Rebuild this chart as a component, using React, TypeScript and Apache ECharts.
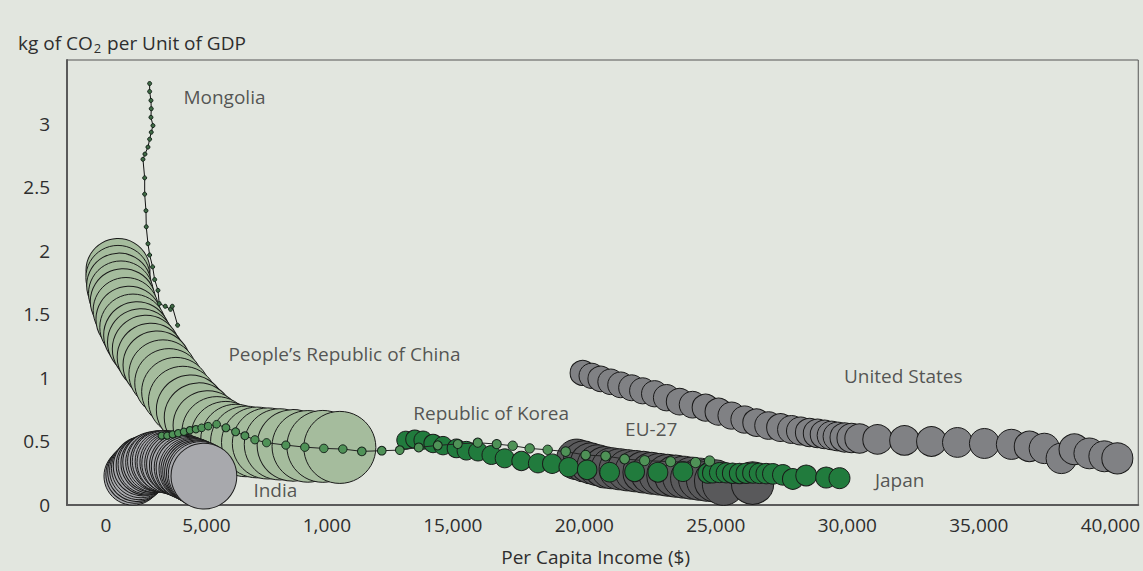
import React, { useEffect, useRef } from 'react';
import * as echarts from 'echarts';

// ---------- axis ticks ----------
const xTickValues = [1816, 5638, 10212, 15000, 20000, 25000, 30000, 35000, 40000];
const xTickLabels = ['0', '5,000', '1,000', '15,000', '20,000', '25,000', '30,000', '35,000', '40,000'];
const yTickValues = [0, 0.5, 1, 1.5, 2, 2.5, 3];
const yTickLabels = ['0', '0.5', '1', '1.5', '2', '2.5', '3'];

// ---------- Mongolia ----------
const mongoliaIncome = [3476, 3476, 3526, 3537, 3526, 3602, 3537, 3476, 3412, 3298, 3222, 3287, 3287, 3336, 3347, 3412, 3476, 3590, 3666, 3792, 3841, 4069, 4270, 4335, 4540];
const mongoliaIntensity = [3.315, 3.252, 3.182, 3.117, 3.049, 2.984, 2.932, 2.877, 2.815, 2.76, 2.719, 2.573, 2.445, 2.315, 2.188, 2.055, 1.966, 1.873, 1.773, 1.688, 1.584, 1.563, 1.539, 1.563, 1.414];

// ---------- People's Republic of China ----------
const chinaIncome = [2272, 2272, 2310, 2386, 2462, 2576, 2690, 2842, 2994, 3146, 3336, 3526, 3754, 3982, 4210, 4476, 4741, 5045, 5349, 5691, 6033, 6375, 6755, 7135, 7553, 7971, 8427, 8921, 9490, 10060, 10706];
const chinaIntensity = [1.844, 1.789, 1.727, 1.664, 1.602, 1.531, 1.461, 1.398, 1.336, 1.281, 1.227, 1.164, 1.102, 1.031, 0.961, 0.891, 0.82, 0.75, 0.688, 0.625, 0.578, 0.539, 0.516, 0.5, 0.492, 0.484, 0.477, 0.469, 0.461, 0.461, 0.453];
const chinaSize = [975, 982, 994, 1004, 1017, 1026, 1037, 1048, 1056, 1066, 1078, 1087, 1096, 1104, 1114, 1120, 1131, 1138, 1144, 1155, 1160, 1170, 1176, 1187, 1192, 1203, 1207, 1217, 1221, 1230, 1235];

// ---------- India ----------
const indiaIncome = [2842, 2918, 2994, 3070, 3146, 3222, 3336, 3412, 3526, 3602, 3716, 3792, 3906, 3982, 4096, 4172, 4286, 4362, 4476, 4552, 4666, 4742, 4856, 4932, 5046, 5122, 5197, 5273, 5349, 5425, 5539];
const indiaIntensity = [0.227, 0.242, 0.258, 0.273, 0.289, 0.305, 0.313, 0.32, 0.328, 0.336, 0.336, 0.344, 0.344, 0.344, 0.344, 0.336, 0.336, 0.328, 0.328, 0.32, 0.313, 0.305, 0.297, 0.289, 0.281, 0.273, 0.266, 0.258, 0.25, 0.242, 0.227];
const indiaSize = [800, 806, 815, 822, 829, 838, 845, 851, 860, 867, 873, 880, 889, 895, 902, 910, 916, 923, 930, 937, 944, 950, 958, 964, 972, 979, 986, 994, 1001, 1012, 1030];

// ---------- Republic of Korea ----------
const koreaIncome = [3932, 4145, 4350, 4563, 4779, 5007, 5235, 5452, 5702, 6022, 6375, 6743, 7097, 7477, 7921, 8654, 9376, 10098, 10820, 11542, 12301, 12985, 13707, 14429, 15189, 15949, 16670, 17278, 17924, 18608, 19292, 20051, 20811, 21533, 22293, 23281, 24231, 24763];
const koreaIntensity = [0.545, 0.545, 0.555, 0.565, 0.576, 0.588, 0.596, 0.607, 0.62, 0.635, 0.607, 0.576, 0.545, 0.513, 0.49, 0.471, 0.455, 0.445, 0.44, 0.422, 0.427, 0.432, 0.453, 0.469, 0.48, 0.49, 0.479, 0.466, 0.445, 0.434, 0.42, 0.393, 0.385, 0.362, 0.349, 0.341, 0.334, 0.346];
const koreaSize = [12, 12, 12, 13, 13, 13, 13, 14, 14, 14, 15, 15, 15, 16, 16, 16, 17, 17, 17, 18, 18, 18, 19, 19, 19, 20, 20, 21, 21, 21, 22, 22, 23, 23, 24, 24, 25, 25];

// ---------- Japan ----------
const japanIncome = [13213, 13555, 13870, 14250, 14630, 15139, 15519, 15960, 16469, 16974, 17609, 18240, 18779, 19406, 20109, 20964, 21913, 22799, 23748, 24698, 24876, 25142, 25397, 25636, 25902, 26156, 26407, 26662, 26916, 27167, 27547, 27927, 28436, 29196, 29701];
const japanIntensity = [0.51, 0.518, 0.51, 0.484, 0.467, 0.445, 0.427, 0.42, 0.393, 0.367, 0.346, 0.328, 0.324, 0.297, 0.277, 0.258, 0.262, 0.258, 0.263, 0.25, 0.252, 0.255, 0.253, 0.25, 0.248, 0.25, 0.252, 0.249, 0.247, 0.245, 0.237, 0.205, 0.232, 0.216, 0.211];
const japanSize = [77, 78, 79, 80, 81, 82, 83, 84, 85, 86, 87, 88, 89, 90, 91, 92, 93, 94, 95, 96, 96, 97, 97, 98, 98, 99, 99, 100, 100, 101, 101, 102, 103, 104, 105];

// ---------- EU-27 ----------
const euIncome = [19710, 19975, 20241, 20507, 20773, 21039, 21343, 21647, 21951, 22255, 22559, 22863, 23167, 23471, 23775, 24079, 24383, 24687, 24991, 25295, 26397];
const euIntensity = [0.359, 0.344, 0.328, 0.313, 0.297, 0.289, 0.281, 0.273, 0.266, 0.258, 0.25, 0.242, 0.234, 0.227, 0.219, 0.211, 0.203, 0.195, 0.188, 0.164, 0.172];
const euSize = [390, 392, 394, 396, 398, 400, 402, 404, 406, 408, 410, 412, 414, 416, 418, 420, 422, 424, 426, 428, 430];

// ---------- United States ----------
const usIncome = [19937, 20279, 20621, 21001, 21381, 21799, 22217, 22673, 23129, 23623, 24117, 24611, 25104, 25598, 26092, 26548, 27004, 27460, 27878, 28220, 28562, 28866, 29132, 29398, 29626, 29892, 30158, 30462, 31146, 32171, 33197, 34185, 35211, 36237, 36921, 37490, 38136, 38630, 39200, 39770, 40264];
const usIntensity = [1.039, 1.016, 0.992, 0.969, 0.945, 0.922, 0.898, 0.875, 0.844, 0.813, 0.789, 0.766, 0.734, 0.703, 0.672, 0.648, 0.625, 0.609, 0.594, 0.582, 0.57, 0.563, 0.555, 0.547, 0.539, 0.531, 0.527, 0.523, 0.516, 0.508, 0.5, 0.492, 0.484, 0.477, 0.461, 0.445, 0.367, 0.438, 0.406, 0.383, 0.367];
const usSize = [150, 152, 154, 156, 158, 160, 162, 164, 166, 168, 170, 172, 174, 176, 178, 180, 182, 184, 186, 188, 190, 192, 194, 196, 198, 200, 202, 204, 206, 208, 210, 212, 214, 216, 218, 220, 222, 224, 226, 228, 230];

// ---------- annotations ----------
const labelNames = ['Mongolia', 'People\u2019s Republic of China', 'India', 'Republic of Korea', 'EU-27', 'United States', 'Japan'];
const labelIncome = [4741, 6451, 7401, 13479, 21533, 29853, 31031];
const labelIntensity = [3.211, 1.1875, 0.117, 0.727, 0.594, 1.016, 0.195];

const BG = '#e2e6df';
const FONT = "'Open Sans', 'Noto Sans', sans-serif";
const TEXT = '#2e2e2e';
const OUTLINE = '#1a1a1a';
const BUBBLE_K = 2.05;

const zip2 = (a: number[], b: number[]) => a.map((v, i) => [v, b[i]]);
const zip3 = (a: number[], b: number[], c: number[]) => a.map((v, i) => [v, b[i], c[i]]);

function bubbleSeries(name: string, data: number[][], color: string) {
  return {
    type: 'scatter',
    name,
    data,
    symbol: 'circle',
    symbolSize: (v: number[]) => BUBBLE_K * Math.sqrt(v[2]),
    itemStyle: { color, borderColor: OUTLINE, borderWidth: 1, opacity: 1 },
    silent: true,
    clip: false,
    emphasis: { disabled: true },
  };
}

function lineSeries(name: string, data: number[][], color: string, size: any, lineColor: string) {
  return {
    type: 'line',
    name,
    data,
    symbol: 'circle',
    symbolSize: size,
    showSymbol: true,
    showAllSymbol: true,
    lineStyle: { color: lineColor, width: 1 },
    itemStyle: { color, borderColor: '#15221a', borderWidth: 1 },
    silent: true,
    clip: false,
    emphasis: { disabled: true },
  };
}

export default function App() {
  const ref = useRef<HTMLDivElement>(null);
  useEffect(() => {
    if (!ref.current) return;
    const chart = echarts.init(ref.current, null, { renderer: 'svg' });
    const option: any = {
      animation: false,
      backgroundColor: BG,
      textStyle: { fontFamily: FONT },
      grid: {
        left: 67,
        top: 60,
        right: 4,
        bottom: 65,
        show: true,
        borderColor: '#555555',
        borderWidth: 1,
        backgroundColor: 'transparent',
      },
      xAxis: {
        type: 'value',
        min: 334,
        max: 41060,
        name: 'Per Capita Income ($)',
        nameLocation: 'middle',
        nameGap: 42,
        nameTextStyle: { fontSize: 19, color: TEXT, fontFamily: FONT, padding: [0, 14, 0, 0] },
        axisLine: { show: true, onZero: false, lineStyle: { color: '#5a5a5a', width: 2 } },
        axisTick: { show: false },
        splitLine: { show: false },
        axisLabel: {
          customValues: xTickValues,
          formatter: (v: number) => {
            const i = xTickValues.indexOf(v);
            return i >= 0 ? xTickLabels[i] : '';
          },
          color: TEXT,
          fontSize: 19,
          fontFamily: FONT,
          margin: 10,
        },
      },
      yAxis: {
        type: 'value',
        min: 0,
        max: 3.5,
        interval: 0.5,
        axisLine: { show: true, onZero: false, lineStyle: { color: '#5a5a5a', width: 2 } },
        axisTick: { show: false },
        splitLine: { show: false },
        axisLabel: {
          customValues: yTickValues,
          formatter: (v: number) => {
            const i = yTickValues.indexOf(v);
            return i >= 0 ? yTickLabels[i] : '';
          },
          color: TEXT,
          fontSize: 19,
          fontFamily: FONT,
          margin: 17,
        },
      },
      graphic: [
        {
          type: 'text',
          x: 18,
          y: 43,
          silent: true,
          style: {
            text: 'kg of CO{sub|2} per Unit of GDP',
            fill: TEXT,
            fontSize: 19,
            fontFamily: FONT,
            verticalAlign: 'middle',
            rich: {
              sub: { fontSize: 13, fontFamily: FONT, fill: TEXT, padding: [9, 1, 0, 1] },
            },
          },
        },
      ],
      series: [
        bubbleSeries('People\u2019s Republic of China', zip3(chinaIncome, chinaIntensity, chinaSize), '#a5bc9d'),
        bubbleSeries('India', zip3(indiaIncome, indiaIntensity, indiaSize), '#a8a9ad'),
        lineSeries('Mongolia', zip2(mongoliaIncome, mongoliaIntensity), '#3f6b45', 4, '#111111'),
        bubbleSeries('EU-27', zip3(euIncome, euIntensity, euSize), '#59595b'),
        bubbleSeries('United States', zip3(usIncome, usIntensity, usSize), '#808184'),
        lineSeries('Republic of Korea', zip3(koreaIncome, koreaIntensity, koreaSize), '#4f9257', (v: number[]) => BUBBLE_K * Math.sqrt(v[2]), '#222222'),
        bubbleSeries('Japan', zip3(japanIncome, japanIntensity, japanSize), '#217b3d'),
        {
          type: 'scatter',
          name: 'labels',
          data: labelNames.map((n, i) => ({ name: n, value: [labelIncome[i], labelIntensity[i]] })),
          symbolSize: 1,
          itemStyle: { color: 'transparent', borderWidth: 0 },
          label: {
            show: true,
            position: 'right',
            distance: 0,
            formatter: '{b}',
            color: TEXT,
            fontSize: 19,
            fontFamily: FONT,
          },
          silent: true,
          z: 10,
        },
      ],
    };
    chart.setOption(option);
    return () => chart.dispose();
  }, []);
  return (
    <div
      ref={ref}
      style={{ position: 'fixed', left: 0, top: 0, width: 1143, height: 571, background: BG }}
    />
  );
}
